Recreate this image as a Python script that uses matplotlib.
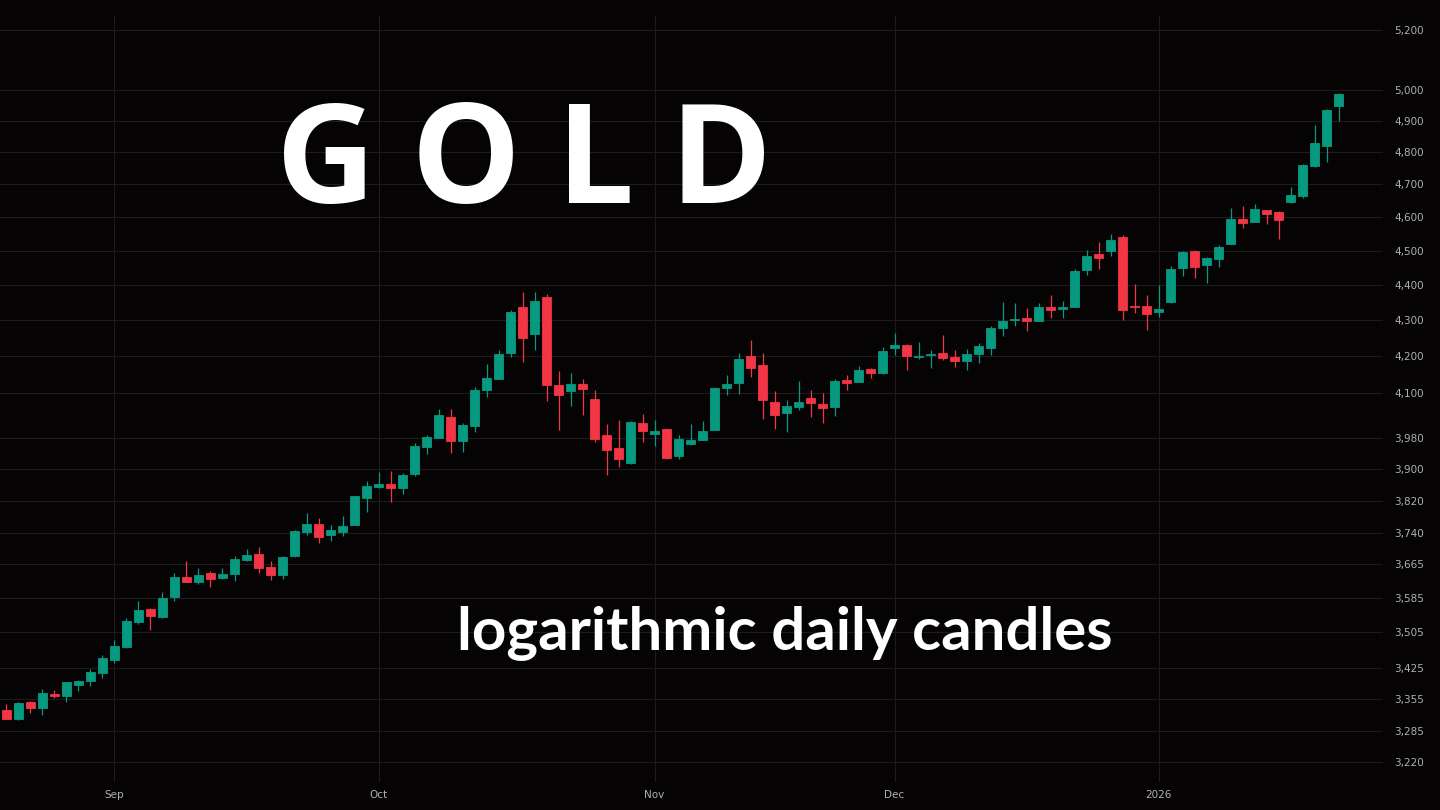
import matplotlib
matplotlib.use('Agg')
import matplotlib.pyplot as plt
from matplotlib.ticker import FixedLocator, NullLocator
import pandas as pd

# daily XAUUSD candles, 19 Aug 2025 .. 23 Jan 2026 (no bars on 25 Dec and 1 Jan)
opens = [3332, 3312, 3349, 3336, 3367, 3362, 3386, 3395, 3413, 3442,
         3472, 3529, 3559, 3541, 3587, 3635, 3623, 3644, 3632, 3642,
         3675, 3690, 3658, 3640, 3685, 3743, 3763, 3736, 3743, 3760,
         3828, 3855, 3863, 3853, 3888, 3958, 3981, 4036, 3973, 4012,
         4108, 4138, 4209, 4338, 4262, 4366, 4122, 4105, 4124, 4084,
         3989, 3955, 3916, 4020, 3991, 4005, 3934, 3965, 3976, 4002,
         4114, 4127, 4201, 4176, 4076, 4047, 4062, 4087, 4070, 4062,
         4135, 4130, 4165, 4154, 4223, 4231, 4198, 4203, 4209, 4198,
         4187, 4206, 4223, 4278, 4301, 4307, 4298, 4338, 4332, 4338,
         4444, 4491, 4500, 4541, 4341, 4341, 4324, 4352, 4450, 4500,
         4459, 4476, 4520, 4595, 4586, 4622, 4616, 4647, 4665, 4758,
         4820, 4948]
highs = [3345, 3349, 3351, 3378, 3375, 3393, 3398, 3422, 3454, 3488,
         3538, 3578, 3562, 3599, 3644, 3673, 3656, 3649, 3656, 3685,
         3702, 3707, 3673, 3685, 3748, 3790, 3778, 3760, 3783, 3833,
         3870, 3893, 3896, 3891, 3968, 3989, 4057, 4057, 4020, 4116,
         4179, 4217, 4329, 4380, 4380, 4375, 4160, 4154, 4138, 4108,
         4018, 4028, 4026, 4044, 4028, 4005, 3989, 4018, 4026, 4116,
         4149, 4209, 4245, 4209, 4105, 4081, 4133, 4108, 4100, 4138,
         4149, 4173, 4168, 4226, 4265, 4234, 4240, 4217, 4259, 4217,
         4220, 4237, 4284, 4352, 4349, 4335, 4349, 4372, 4355, 4447,
         4503, 4526, 4550, 4547, 4404, 4372, 4401, 4456, 4500, 4503,
         4482, 4518, 4628, 4635, 4641, 4622, 4619, 4692, 4764, 4887,
         4938, 4990]
lows = [3311, 3310, 3325, 3321, 3358, 3349, 3373, 3384, 3402, 3436,
        3470, 3525, 3511, 3538, 3578, 3623, 3618, 3611, 3630, 3625,
        3673, 3644, 3628, 3630, 3683, 3736, 3716, 3721, 3733, 3760,
        3793, 3853, 3818, 3838, 3883, 3940, 3981, 3942, 3945, 3997,
        4089, 4138, 4198, 4184, 4217, 4078, 4002, 4065, 4041, 3971,
        3886, 3906, 3914, 3971, 3960, 3927, 3927, 3963, 3976, 4002,
        4095, 4098, 4144, 4031, 4005, 3997, 4055, 4036, 4020, 4039,
        4108, 4130, 4141, 4152, 4203, 4162, 4192, 4168, 4190, 4171,
        4162, 4181, 4203, 4256, 4284, 4270, 4298, 4307, 4307, 4338,
        4429, 4447, 4485, 4301, 4321, 4273, 4310, 4349, 4426, 4421,
        4406, 4453, 4520, 4568, 4586, 4580, 4535, 4644, 4658, 4754,
        4770, 4900]
closes = [3312, 3347, 3336, 3369, 3363, 3393, 3395, 3415, 3447, 3474,
          3531, 3557, 3543, 3585, 3635, 3623, 3640, 3630, 3642, 3678,
          3687, 3656, 3640, 3683, 3746, 3763, 3731, 3748, 3758, 3833,
          3858, 3863, 3853, 3886, 3961, 3984, 4041, 3973, 4015, 4108,
          4141, 4206, 4324, 4251, 4355, 4122, 4095, 4124, 4111, 3978,
          3950, 3927, 4023, 3999, 3999, 3929, 3978, 3976, 3999, 4114,
          4124, 4193, 4168, 4081, 4041, 4065, 4076, 4073, 4060, 4133,
          4127, 4162, 4154, 4214, 4231, 4201, 4201, 4206, 4195, 4187,
          4206, 4228, 4278, 4298, 4304, 4298, 4338, 4329, 4338, 4441,
          4485, 4479, 4532, 4329, 4338, 4318, 4332, 4447, 4497, 4453,
          4479, 4512, 4595, 4583, 4625, 4610, 4592, 4668, 4761, 4830,
          4935, 4987]

price_ticks = [3220, 3285, 3355, 3425, 3505, 3585, 3665, 3740, 3820, 3900,
               3980, 4100, 4200, 4300, 4400, 4500, 4600, 4700, 4800, 4900,
               5000, 5200]

dates = pd.bdate_range('2025-08-19', '2026-01-23')
dates = dates[~dates.isin(pd.to_datetime(['2025-12-25', '2026-01-01']))]

bg = '#060304'
up_color = '#089981'
down_color = '#f23645'
grid_color = '#1e1b1b'
label_color = '#aeb0b6'

fig = plt.figure(figsize=(14.4, 8.1), dpi=100, facecolor=bg)
ax = fig.add_axes([0, 28 / 810, 1383 / 1440, 766 / 810], facecolor=bg)

x = list(range(len(dates)))
colors = [up_color if c >= o else down_color for o, c in zip(opens, closes)]
bottoms = [min(o, c) for o, c in zip(opens, closes)]
heights = [abs(c - o) for o, c in zip(opens, closes)]

# фитили и тела свечей
ax.vlines(x, lows, highs, colors=colors, linewidth=0.9, zorder=2)
ax.bar(x, heights, bottom=bottoms, width=0.75, color=colors,
       edgecolor=colors, linewidth=0.6, zorder=3)

ax.set_yscale('log')
ax.set_ylim(3178, 5248)
ax.set_xlim(-0.54, 114.7)

# первая свеча каждого месяца -> подпись (январь подписывается годом)
month_idx = [i for i in range(1, len(dates)) if dates[i].month != dates[i - 1].month]
month_lbl = [str(dates[i].year) if dates[i].month == 1 else dates[i].strftime('%b')
             for i in month_idx]
ax.xaxis.set_major_locator(FixedLocator(month_idx))
ax.set_xticklabels(month_lbl)
ax.xaxis.set_minor_locator(NullLocator())

ax.yaxis.tick_right()
ax.yaxis.set_major_locator(FixedLocator(price_ticks))
ax.yaxis.set_minor_locator(NullLocator())
ax.set_yticklabels([f'{p:,}' for p in price_ticks])

ax.tick_params(axis='both', length=0, labelcolor=label_color, labelsize=7.5)
ax.tick_params(axis='y', pad=8)
ax.tick_params(axis='x', pad=6)
ax.grid(True, color=grid_color, linewidth=0.8, zorder=0)
for s in ax.spines.values():
    s.set_visible(False)

fig.text(276 / 1440, (810 - 203) / 810, 'G O L D', color='white',
         fontfamily='Open Sans', fontweight='bold', fontsize=99,
         ha='left', va='baseline')
fig.text(457 / 1440, (810 - 650) / 810, 'logarithmic daily candles', color='white',
         fontfamily='Lato', fontweight='bold', fontsize=43.2,
         ha='left', va='baseline')

fig.savefig('out.png', dpi=100, facecolor=bg)
